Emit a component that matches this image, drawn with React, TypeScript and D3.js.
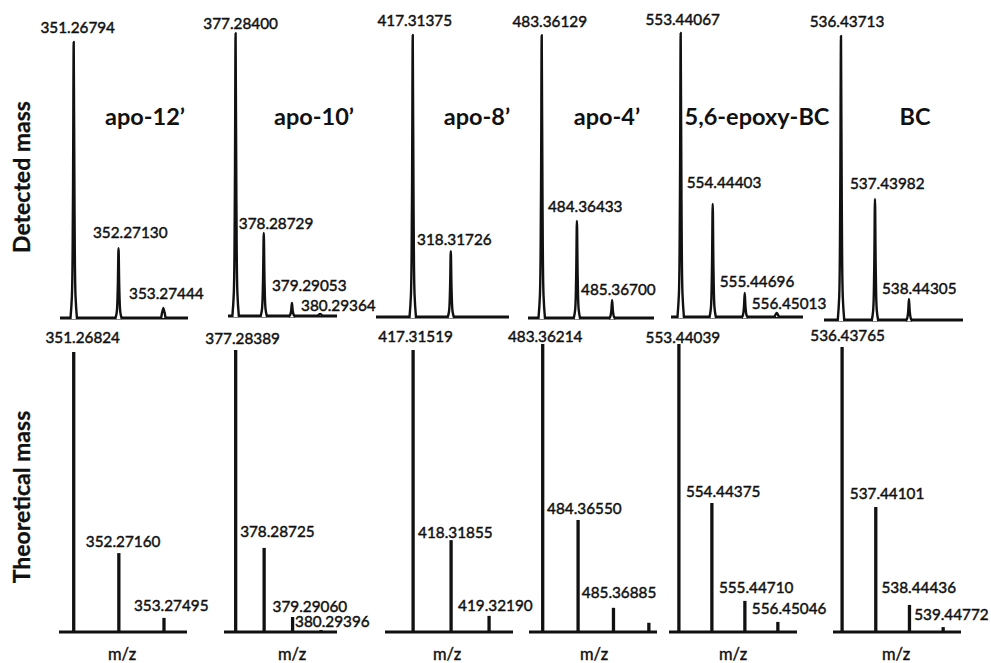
import React from 'react';
import * as d3 from 'd3';

// Compound names (one column each)
const compounds = ['apo-12’', 'apo-10’', 'apo-8’', 'apo-4’', '5,6-epoxy-BC', 'BC'];
const rowTitles = ['Detected mass', 'Theoretical mass'];
const axisLabel = 'm/z';

// Detected isotope peaks (label text as printed, relative intensity %)
const detectedLabels = [
  ['351.26794', '352.27130', '353.27444'],
  ['377.28400', '378.28729', '379.29053', '380.29364'],
  ['417.31375', '318.31726'],
  ['483.36129', '484.36433', '485.36700'],
  ['553.44067', '554.44403', '555.44696', '556.45013'],
  ['536.43713', '537.43982', '538.44305'],
];
const detectedIntensity = [
  [97.2, 24.6, 3.5],
  [99.6, 29.2, 4.6, 0.7],
  [99.3, 23.2],
  [99.6, 34.2, 6.3],
  [100, 39.8, 8.5, 1.4],
  [100, 42.6, 7.4],
];

// Theoretical isotope pattern ('' = unlabelled stick)
const theoreticalLabels = [
  ['351.26824', '352.27160', '353.27495'],
  ['377.28389', '378.28725', '379.29060', '380.29396'],
  ['417.31519', '418.31855', '419.32190'],
  ['483.36214', '484.36550', '485.36885', ''],
  ['553.44039', '554.44375', '555.44710', '556.45046'],
  ['536.43765', '537.44101', '538.44436', '539.44772'],
];
const theoreticalIntensity = [
  [97.2, 27.4, 4.9],
  [97.9, 29.2, 5.2, 0.7],
  [97.9, 31.9, 5.6],
  [100, 38.9, 8.4, 3.2],
  [100, 44.8, 10.8, 3.5],
  [99, 43.4, 9.4, 1.7],
];

// panel layout: baseline extent in px, isotope-index domain, baseline y
const topPanels = [
  { x0: 60, x1: 188, dom: [-0.306, 2.55], base: 318 },
  { x0: 228, x1: 337, dom: [-0.27, 3.6], base: 316 },
  { x0: 376, x1: 509, dom: [-0.966, 2.53], base: 317 },
  { x0: 528, x1: 654, dom: [-0.39, 3.19], base: 318 },
  { x0: 671, x1: 803, dom: [-0.303, 3.82], base: 317 },
  { x0: 824, x1: 963, dom: [-0.5, 3.59], base: 320 },
];
const bottomPanels = [
  { x0: 59, x1: 187, dom: [-0.326, 2.51], base: 632 },
  { x0: 224, x1: 337, dom: [-0.41, 3.56], base: 632 },
  { x0: 385, x1: 513, dom: [-0.74, 2.63], base: 632 },
  { x0: 529, x1: 657, dom: [-0.387, 3.23], base: 632 },
  { x0: 669, x1: 797, dom: [-0.3, 3.58], base: 632 },
  { x0: 833, x1: 961, dom: [-0.27, 3.53], base: 632 },
];
// label placement relative to the peak tip [dx, dy of text centre]
const topLabelOffsets = [
  [[4, -14], [-25.6, -16], [-34.3, -14.5]],
  [[5, -10], [-25, -10], [-20, -17], [-19, -9]],
  [[2, -14], [-33.7, -12]],
  [[8, -14], [-29, -14], [-31, -11]],
  [[2, -14], [-26, -21], [-25, -11], [-25, -10]],
  [[6, -15], [-25, -16], [-27, -10]],
];
const bottomLabelOffsets = [
  [[9, -15], [-33, -12], [-30, -12]],
  [[7, -12], [-24, -16], [-20, -11], [-26, -8]],
  [[2.5, -14], [-33, -8], [-31, -10]],
  [[2.5, -8], [-31, -11], [-31.7, -15.5], [0, 0]],
  [[4, -7], [-26, -11], [-26, -13], [-26, -13]],
  [[5.5, -11], [-26, -14], [-28, -17], [-29, -13]],
];
const titlePos = [145, 314, 477, 607, 757, 915];
const mzPos = [122, 292, 447, 594, 733, 896];

const FONT = 'Lato, "Noto Sans", sans-serif';
const INK = '#111';
const LABEL_FS = 15.3;

const peakLine = d3.line<[number, number]>().curve(d3.curveCatmullRom.alpha(0.5));

function Panel({ cfg, labels, values, offsets, detected, span }: any) {
  const x = d3.scaleLinear().domain(cfg.dom).range([cfg.x0, cfg.x1]);
  const y = d3.scaleLinear().domain([0, 100]).range([cfg.base, cfg.base - span]);
  return (
    <g>
      <line x1={cfg.x0} x2={cfg.x1} y1={cfg.base} y2={cfg.base} stroke={INK} strokeWidth={3.2} />
      {values.map((v: number, i: number) => {
        const px = x(i);
        const top = y(v);
        const h = cfg.base - top;
        let mark;
        if (detected) {
          const w = h < 12 ? 2.2 : 3.3;
          const pts: [number, number][] = h < 12
            ? [[px - w, cfg.base], [px, top], [px + w, cfg.base]]
            : [
                [px - w, cfg.base + 1],
                [px - 1.8, cfg.base - h * 0.08],
                [px - 0.8, cfg.base - h * 0.4],
                [px, top],
                [px + 0.8, cfg.base - h * 0.4],
                [px + 1.8, cfg.base - h * 0.08],
                [px + w, cfg.base + 1],
              ];
          mark = <path d={peakLine(pts) || ''} fill="#fff" stroke={INK} strokeWidth={2.4} strokeLinejoin="round" />;
        } else {
          mark = <line x1={px} x2={px} y1={cfg.base} y2={top} stroke={INK} strokeWidth={3.3} />;
        }
        const lab = labels[i];
        const off = offsets[i];
        return (
          <g key={i}>
            {mark}
            {lab ? (
              <text
                x={px + off[0]}
                y={top + off[1] + LABEL_FS * 0.36}
                textAnchor={i === 0 ? 'middle' : 'start'}
                fontSize={LABEL_FS}
                fontFamily={FONT}
                fill={INK}
                stroke={INK}
                strokeWidth={0.45}
              >
                {lab}
              </text>
            ) : null}
          </g>
        );
      })}
    </g>
  );
}

export default function App() {
  return (
    <svg width={991} height={663} style={{ position: 'absolute', left: 0, top: 0, background: '#fff' }}>
      <rect width={991} height={663} fill="#fff" />
      {/* row titles */}
      {rowTitles.map((t, r) => (
        <text
          key={t}
          transform={`translate(${22 + 8},${r === 0 ? 177 : 497}) rotate(-90)`}
          textAnchor="middle"
          fontSize={23}
          fontWeight="bold"
          fontFamily={FONT}
          fill={INK}
          stroke={INK}
          strokeWidth={0.3}
        >
          {t}
        </text>
      ))}
      {compounds.map((c, k) => (
        <g key={c}>
          <Panel
            cfg={topPanels[k]}
            labels={detectedLabels[k]}
            values={detectedIntensity[k]}
            offsets={topLabelOffsets[k]}
            detected
            span={284}
          />
          <Panel
            cfg={bottomPanels[k]}
            labels={theoreticalLabels[k]}
            values={theoreticalIntensity[k]}
            offsets={bottomLabelOffsets[k]}
            detected={false}
            span={288}
          />
          <text
            x={titlePos[k]}
            y={117 + 8}
            textAnchor="middle"
            fontSize={23.5}
            fontWeight="bold"
            fontFamily={FONT}
            fill={INK}
          >
            {c}
          </text>
          <text
            x={mzPos[k]}
            y={655 + 5}
            textAnchor="middle"
            fontSize={16.5}
            fontFamily={FONT}
            fill={INK}
            stroke={INK}
            strokeWidth={0.4}
          >
            {axisLabel}
          </text>
        </g>
      ))}
    </svg>
  );
}
